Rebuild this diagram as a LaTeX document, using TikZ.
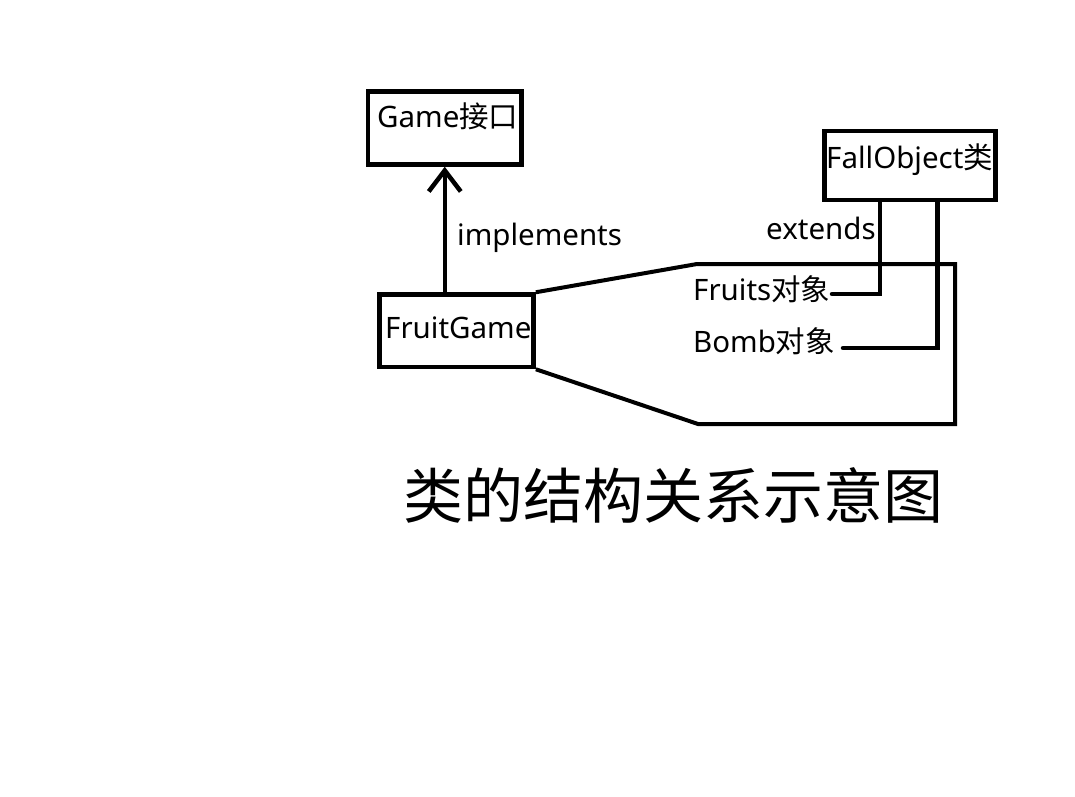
\documentclass[tikz,border=0pt]{standalone}
\usepackage{fontspec}
\setmainfont{Noto Sans}
\newfontfamily\cjk{Noto Sans CJK SC}
\usetikzlibrary{arrows.meta}
\begin{document}
\begin{tikzpicture}[x=1pt,y=-1pt,
  box/.style={draw=black,line width=4.5pt,inner sep=0pt},
  lbl/.style={inner sep=0pt,anchor=base west,font=\fontsize{29.5}{32}\selectfont},
  conn/.style={draw=black,line width=4.5pt}]
\fill[white] (0,0) rectangle (1075,796);
\useasboundingbox (0,0) rectangle (1075,796);
% boxes
\node[box,minimum width=153.5pt,minimum height=73pt] (game) at (444.75,128) {};
\node[box,minimum width=154pt,minimum height=72.5pt] (fruit) at (456.6,330.75) {};
\node[box,minimum width=171pt,minimum height=69pt] (fall) at (910,165.5) {};
% box texts
\node[lbl] (gametxt) at (377,127) {Game{\cjk 接口}};
\node[lbl] (fruittxt) at (385,338) {FruitGame};
\node[lbl] (falltxt) at (826,168) {FallObject{\cjk 类}};
% labels
\node[lbl] (impl) at (457,245) {implements};
\node[lbl] (ext) at (766,239) {extends};
\node[lbl] (fruits) at (693,300) {Fruits{\cjk 对象}};
\node[lbl] (bomb) at (693,352) {Bomb{\cjk 对象}};
% implements arrow
\draw[conn,-{Straight Barb[length=21pt,width=32pt]}] (fruit.north -| game.south) -- (game.south);
% container shape
\coordinate (p1) at (697,264);
\coordinate (p2) at (955,264);
\coordinate (p3) at (955,424);
\coordinate (p4) at (698,424);
\draw[conn,line width=4pt,line join=miter] (fruit.north east) -- (p1) -- (p2) -- (p3) -- (p4) -- (fruit.south east);
% extends lines
\coordinate (x1) at (880,0);
\coordinate (x2) at (937.5,0);
\coordinate (fend) at (832,294);
\coordinate (bend) at (843,348);
\draw[conn,line cap=round] (fall.south -| x1) |- (fend);
\draw[conn,line cap=round] (fall.south -| x2) |- (bend);
% title
\node[inner sep=0pt,font=\cjk\fontsize{60}{66}\selectfont] (title) at (673,495) {类的结构关系示意图};
\end{tikzpicture}
\end{document}
